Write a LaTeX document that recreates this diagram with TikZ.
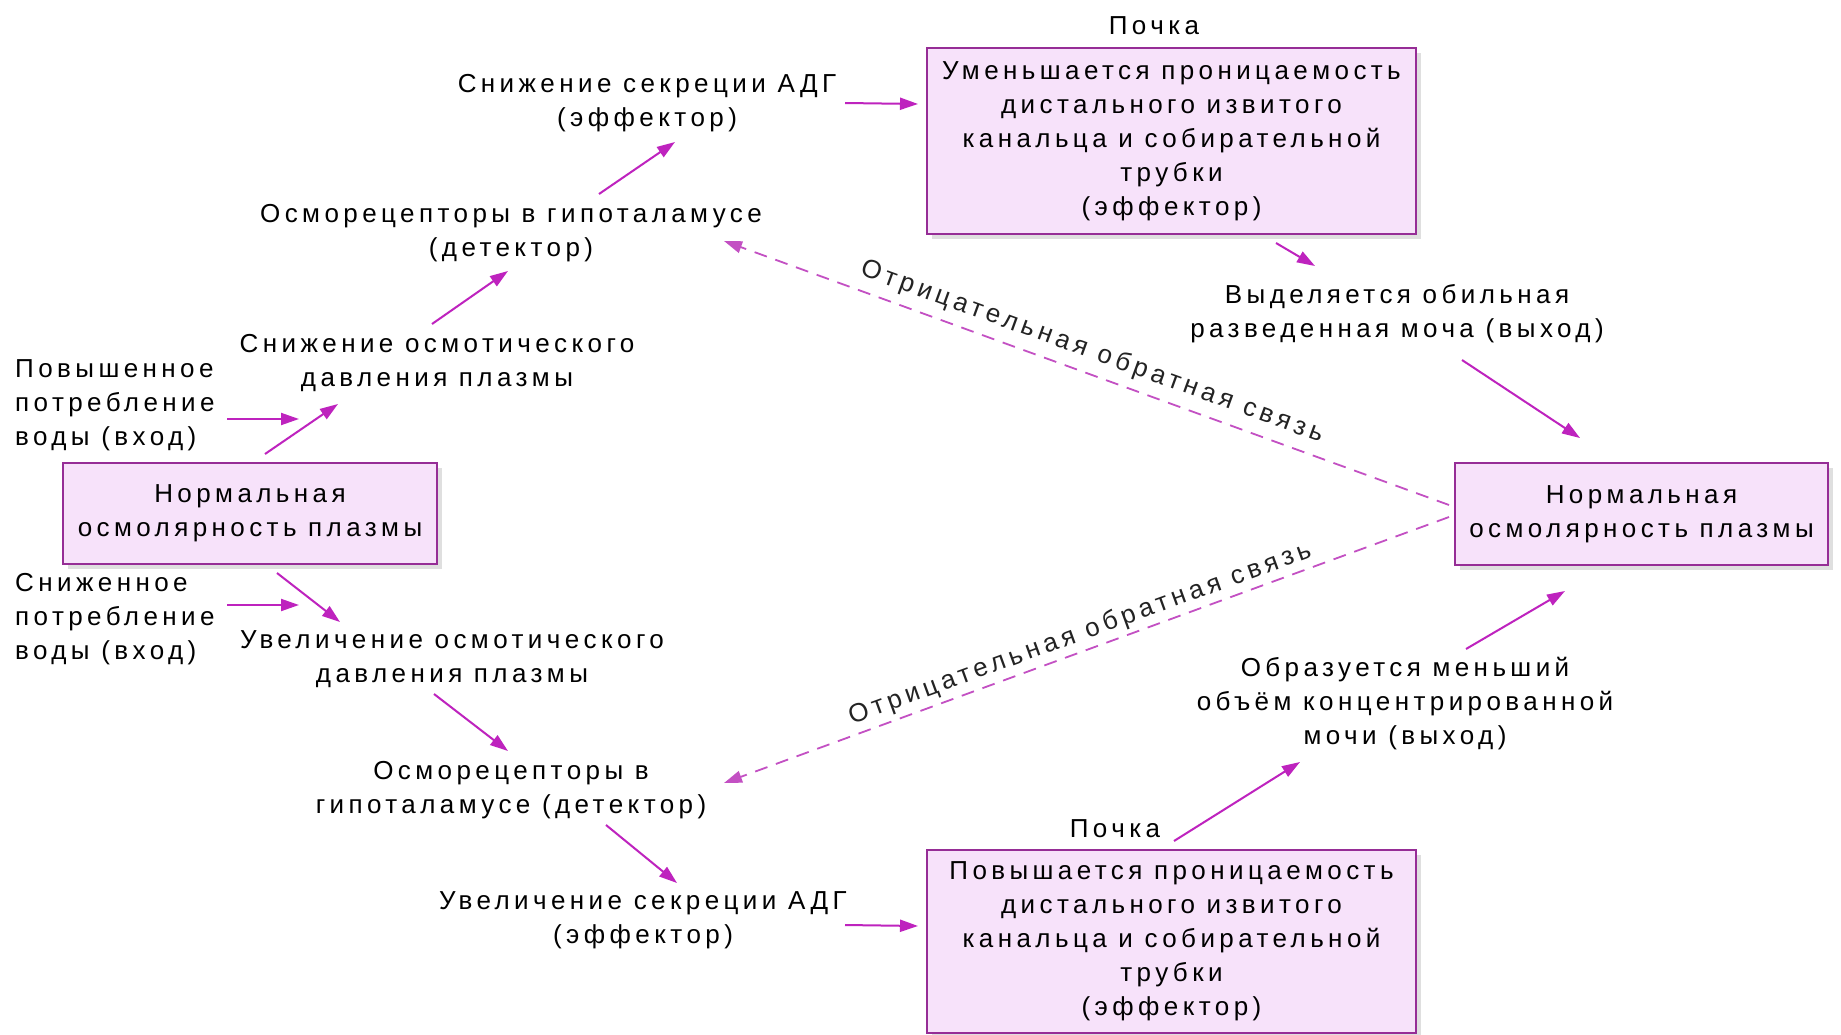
\documentclass[tikz,border=0pt]{standalone}
\usepackage{fontspec}
\setmainfont{Liberation Sans}[LetterSpace=17]
\usetikzlibrary{arrows.meta,shadows}
\definecolor{boxfill}{RGB}{247,226,250}
\definecolor{boxdraw}{RGB}{150,45,150}
\definecolor{arr}{RGB}{190,35,190}
\definecolor{fbcol}{RGB}{195,80,195}
\definecolor{lblcol}{RGB}{35,35,35}
\tikzset{
  every node/.style={font=\fontsize{26}{34}\selectfont},
  box/.style={draw=boxdraw, line width=2pt, fill=boxfill, align=center,
    inner sep=0pt, drop shadow={shadow xshift=5pt, shadow yshift=-5pt, opacity=0.25, fill=gray}},
  txt/.style={align=center, inner sep=0pt},
  ltxt/.style={align=left, inner sep=0pt, anchor=west},
  link/.style={draw=arr, line width=2pt, -{Triangle[length=18pt,width=12pt]}},
  fb/.style={draw=fbcol, line width=1.8pt, dash pattern=on 13pt off 9pt, -{Triangle[length=18pt,width=12pt]}},
  fbl/.style={inner sep=0pt, text=lblcol},
}
\begin{document}
\begin{tikzpicture}[x=1pt,y=-1pt]
\fill[white] (0,0) rectangle (1841,1035);
\useasboundingbox (0,0) rectangle (1841,1035);

% boxes
\node[box, minimum width=489pt, minimum height=186pt] (top) at (1171.5,141)
  {Уменьшается проницаемость\\дистального извитого\\канальца и собирательной\\трубки\\(эффектор)};
\node[box, minimum width=489pt, minimum height=183pt] (bot) at (1171.5,941.5)
  {Повышается проницаемость\\дистального извитого\\канальца и собирательной\\трубки\\(эффектор)};
\node[box, minimum width=374pt, minimum height=101pt] (left) at (250,513.5)
  {Нормальная\\осмолярность плазмы};
\node[box, minimum width=373pt, minimum height=102pt] (right) at (1641.5,514)
  {Нормальная\\осмолярность плазмы};

% text nodes
\node[txt] (kid1) at (1154,26) {Почка};
\node[txt] (kid2) at (1115,829) {Почка};
\node[txt] (sek1) at (647,103) {Снижение секреции АДГ\\(эффектор)};
\node[txt] (osm1) at (511,233) {Осморецепторы в гипоталамусе\\(детектор)};
\node[txt] (dav1) at (437,363) {Снижение осмотического\\давления плазмы};
\node[ltxt] (inc1) at (15,405) {Повышенное\\потребление\\воды (вход)};
\node[ltxt] (inc2) at (15,619) {Сниженное\\потребление\\воды (вход)};
\node[txt] (dav2) at (452,659) {Увеличение осмотического\\давления плазмы};
\node[txt] (osm2) at (511,790) {Осморецепторы в\\гипоталамусе (детектор)};
\node[txt] (sek2) at (643,920) {Увеличение секреции АДГ\\(эффектор)};
\node[txt] (out1) at (1397,314) {Выделяется обильная\\разведенная моча (выход)};
\node[txt] (out2) at (1405,704) {Образуется меньший\\объём концентрированной\\мочи (выход)};

% free ends of the input arrows
\coordinate (in1end) at (299,419);
\coordinate (in2end) at (299,605);

% arrows
\draw[link] ([shift={(198,0)}]sek1.center) -- ([shift={(-253.5,-37)}]top.center);
\draw[link] ([shift={(88,-39)}]osm1.center) -- ([shift={(28,39)}]sek1.center);
\draw[link] ([shift={(-5,-39)}]dav1.center) -- ([shift={(-3,38)}]osm1.center);
\draw[link] ([shift={(15,-59.5)}]left.center) -- ([shift={(-99,41)}]dav1.center);
\draw[link] ([shift={(212,14)}]inc1.west) -- (in1end);
\draw[link] ([shift={(27,59.5)}]left.center) -- ([shift={(-112,-37)}]dav2.center);
\draw[link] ([shift={(212,-14)}]inc2.west) -- (in2end);
\draw[link] ([shift={(-18,35)}]dav2.center) -- ([shift={(-3,-39)}]osm2.center);
\draw[link] ([shift={(95,35)}]osm2.center) -- ([shift={(34,-37)}]sek2.center);
\draw[link] ([shift={(202,5)}]sek2.center) -- ([shift={(-253.5,-15.5)}]bot.center);
\draw[link] ([shift={(59,12)}]kid2.center) -- ([shift={(-105,58)}]out2.center);
\draw[link] ([shift={(61,-55)}]out2.center) -- ([shift={(-76.5,77)}]right.center);
\draw[link] ([shift={(104.5,102)}]top.center) -- ([shift={(-82,-48)}]out1.center);
\draw[link] ([shift={(65,46)}]out1.center) -- ([shift={(-61.5,-76)}]right.center);

% feedback
\draw[fb] ([shift={(-5,-9)}]right.west) -- ([shift={(213,8)}]osm1.center);
\draw[fb] ([shift={(-5,3)}]right.west) -- ([shift={(213,-7)}]osm2.center);
\node[fbl, rotate=-20] (lab1) at (1092,352) {Отрицательная обратная связь};
\node[fbl, rotate=20] (lab2) at (1080,634) {Отрицательная обратная связь};
\end{tikzpicture}
\end{document}
